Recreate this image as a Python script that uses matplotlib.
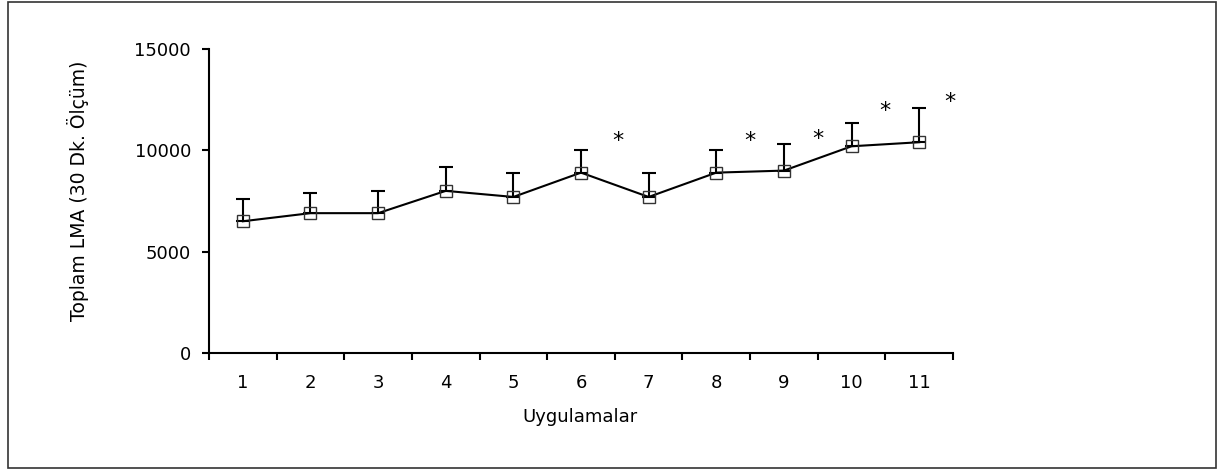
import matplotlib
matplotlib.use("Agg")
import matplotlib.pyplot as plt
from matplotlib.patches import Rectangle
import numpy as np

# ---- data ----
categories = [str(i) for i in range(1, 12)]
means = [6500, 6900, 6900, 8000, 7700, 8900, 7700, 8900, 9000, 10200, 10400]
upper = [7600, 7900, 8000, 9200, 8900, 10000, 8900, 10000, 10300, 11350, 12100]
star_x = [6.55, 8.5, 9.5, 10.5, 11.45]
star_y = [10450, 10450, 10550, 11930, 12370]
y_ticks = [0, 5000, 10000, 15000]
x_label = "Uygulamalar"
y_label = "Toplam LMA (30 Dk. Ölçüm)"

plt.rcParams['font.family'] = ['DejaVu Sans']
W, H = 1218, 470
fig = plt.figure(figsize=(W / 100, H / 100), dpi=100)

ax = fig.add_axes([209 / W, (H - 353) / H, 744 / W, 304 / H])
x = np.arange(1, len(categories) + 1)
m = np.array(means)
err_up = np.array(upper) - m
ax.errorbar(x, m, yerr=[np.zeros_like(err_up), err_up], fmt='none',
            ecolor='black', elinewidth=1.5, capsize=5, capthick=1.5, zorder=2)
ax.plot(x, m, color='black', lw=1.5, marker='s', markersize=8,
        markerfacecolor='none', markeredgecolor='#333333', markeredgewidth=1.0, zorder=3)

for sx, sy in zip(star_x, star_y):
    ax.text(sx, sy, '*', ha='center', va='center', fontsize=16, color='black')

ax.set_xlim(0.5, len(categories) + 0.5)
ax.set_ylim(0, 15000)
ax.set_yticks(y_ticks)
ax.set_yticklabels([str(v) for v in y_ticks], fontsize=13)
ax.set_xticks(np.arange(0.5, len(categories) + 1, 1.0))
ax.set_xticklabels([])
ax.set_xticks(x, minor=True)
ax.set_xticklabels(categories, minor=True, fontsize=13)
ax.tick_params(axis='x', which='major', direction='out', length=5, width=1.5)
ax.tick_params(axis='x', which='minor', length=0, pad=15)
ax.tick_params(axis='y', direction='out', length=5, width=1.5, pad=8)
for s in ['top', 'right']:
    ax.spines[s].set_visible(False)
for s in ['left', 'bottom']:
    ax.spines[s].set_linewidth(1.5)

fig.text(580 / W, 1 - 417 / H, x_label, ha='center', va='center', fontsize=13)
fig.text(78 / W, 1 - 191 / H, y_label, ha='center', va='center', rotation=90, fontsize=13.5)

fig.patches.append(Rectangle((8 / W, 2 / H), 1208 / W, 466 / H, transform=fig.transFigure,
                             fill=False, edgecolor='#333333', linewidth=1.2))

fig.savefig('out.png', dpi=100)
